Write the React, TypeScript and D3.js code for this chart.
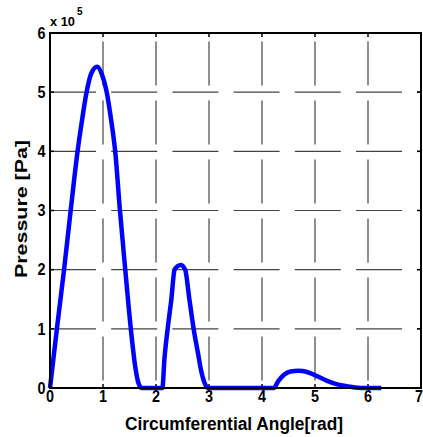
import React from "react";
import * as d3 from "d3";

const angle = [
  0, 0.13, 0.265, 0.39, 0.52, 0.6, 0.69, 0.78, 0.89, 0.98, 1.07, 1.15, 1.23, 1.32, 1.42, 1.525, 1.61, 1.67, 1.73,
  2.12, 2.16, 2.22, 2.29, 2.35, 2.41, 2.47, 2.55, 2.63, 2.71, 2.79, 2.85, 2.92, 2.99,
  4.22, 4.31, 4.41, 4.54, 4.69, 4.85, 5.04, 5.23, 5.42, 5.67, 5.9, 6.25,
];
const pressure = [
  0, 1.0, 2.0, 3.0, 4.0, 4.5, 5.0, 5.32, 5.43, 5.3, 5.0, 4.55, 4.0, 3.0, 2.0, 1.0, 0.35, 0.08, 0,
  0, 0.5, 1.0, 1.5, 2.0, 2.06, 2.08, 2.0, 1.5, 1.0, 0.6, 0.3, 0.08, 0,
  0, 0.12, 0.22, 0.28, 0.29, 0.27, 0.2, 0.12, 0.06, 0.02, 0.0, 0,
];
const xTicks = [0, 1, 2, 3, 4, 5, 6, 7];
const yTicks = [0, 1, 2, 3, 4, 5, 6];
const xLabel = "Circumferential Angle[rad]";
const yLabel = "Pressure [Pa]";

const W = 423;
const H = 437;
const L = 50;
const R = 421;
const T = 33;
const B = 388;

export default function App() {
  const x = d3.scaleLinear().domain([0, 7]).range([L, R]);
  const y = d3.scaleLinear().domain([0, 6]).range([B, T]);
  const pts: [number, number][] = angle.map((a, i) => [a, pressure[i]]);
  const line = d3
    .line<[number, number]>()
    .x((d) => x(d[0]))
    .y((d) => y(d[1]))
    .curve(d3.curveMonotoneX);
  const font = "'Liberation Sans', Arial, Helvetica, sans-serif";
  return (
    <svg
      width={W}
      height={H}
      style={{ position: "absolute", left: 0, top: 0, background: "#fff" }}
    >
      <rect x={0} y={0} width={W} height={H} fill="#fff" />
      {xTicks.slice(1, -1).map((t) => (
        <line
          key={"gx" + t}
          x1={x(t)}
          x2={x(t)}
          y1={B}
          y2={T}
          stroke="#444"
          strokeWidth={1.2}
          strokeDasharray="44 15"
          strokeDashoffset={51.5}
        />
      ))}
      {yTicks.slice(1, -1).map((t) => (
        <line
          key={"gy" + t}
          x1={L}
          x2={R}
          y1={y(t)}
          y2={y(t)}
          stroke="#444"
          strokeWidth={1.2}
          strokeDasharray="46 15.2"
          strokeDashoffset={0}
        />
      ))}
      {xTicks.map((t) => (
        <g key={"tx" + t}>
          <line x1={x(t)} x2={x(t)} y1={B} y2={B - 4} stroke="#000" strokeWidth={1.5} />
          <line x1={x(t)} x2={x(t)} y1={T} y2={T + 4} stroke="#000" strokeWidth={1.5} />
          <text
            x={t === 7 ? x(t) - 2 : x(t)}
            y={402}
            textAnchor="middle"
            fontFamily={font}
            fontWeight="bold"
            fontSize={16}
            textLength={8}
            lengthAdjust="spacingAndGlyphs"
          >
            {t}
          </text>
        </g>
      ))}
      {yTicks.map((t) => (
        <g key={"ty" + t}>
          <line x1={L} x2={L + 4} y1={y(t)} y2={y(t)} stroke="#000" strokeWidth={1.5} />
          <line x1={R} x2={R - 4} y1={y(t)} y2={y(t)} stroke="#000" strokeWidth={1.5} />
          <text
            x={45.5}
            y={y(t) + 5.8}
            textAnchor="end"
            fontFamily={font}
            fontWeight="bold"
            fontSize={16}
            textLength={8}
            lengthAdjust="spacingAndGlyphs"
          >
            {t}
          </text>
        </g>
      ))}
      <path
        d={line(pts) || ""}
        fill="none"
        stroke="#0000ff"
        strokeWidth={4.5}
        strokeLinejoin="round"
      />
      <rect x={L} y={T} width={R - L} height={B - T} fill="none" stroke="#000" strokeWidth={2} />
      <text x={50} y={26} fontFamily={font} fontWeight="bold" fontSize={13} textLength={25} lengthAdjust="spacingAndGlyphs">
        x 10
      </text>
      <text x={77} y={15} fontFamily={font} fontWeight="bold" fontSize={10}>
        5
      </text>
      <text
        x={234}
        y={430}
        textAnchor="middle"
        fontFamily={font}
        fontWeight="bold"
        fontSize={18}
        textLength={218}
        lengthAdjust="spacingAndGlyphs"
      >
        {xLabel}
      </text>
      <text
        transform="translate(27.3,209) rotate(-90)"
        textAnchor="middle"
        fontFamily={font}
        fontWeight="bold"
        fontSize={16.5}
        textLength={138}
        lengthAdjust="spacingAndGlyphs"
      >
        {yLabel}
      </text>
    </svg>
  );
}
